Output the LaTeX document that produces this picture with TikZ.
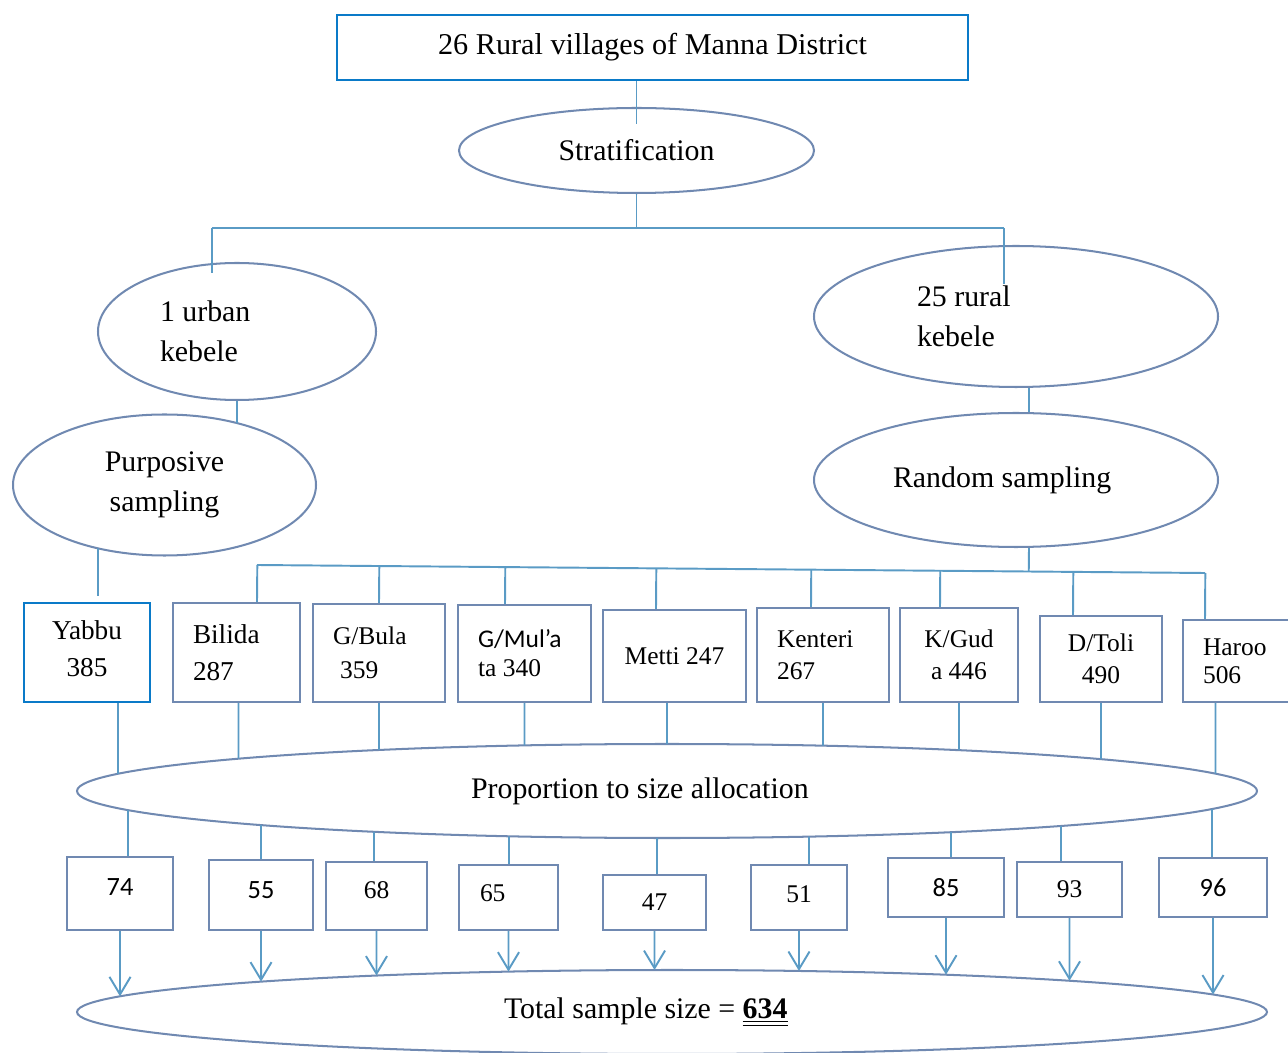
\documentclass[tikz,border=0pt]{standalone}
\usepackage{fontspec}
\setmainfont{Liberation Serif}
\newfontfamily\calibri{Carlito}
\usetikzlibrary{shapes.geometric,arrows.meta,calc,intersections}
\definecolor{linkc}{RGB}{90,155,197}
\definecolor{edgec}{RGB}{112,137,177}
\definecolor{blueb}{RGB}{10,122,200}

\tikzset{
  sz/.style 2 args={minimum width=#1*0.02cm, minimum height=#2*0.02cm},
  oval/.style={ellipse, draw=edgec, line width=1.15pt, inner sep=0pt,
    align=flush center, font=\fontsize{17}{22.7}\selectfont},
  box/.style={rectangle, draw=edgec, line width=1.4pt, inner sep=0pt,
    align=flush center, font=\fontsize{14.5}{18}\selectfont},
  sans/.style={font=\calibri\fontsize{15}{18}\selectfont},
  link/.style={draw=linkc, line width=1.1pt},
  arr/.style={link, -{Straight Barb[length=10pt,width=12pt]}},
}

% line from a point straight up or down to the border of a named shape
\newcommand\linkto[4][link]{%
  \path[name path=ray] #2 -- ++(0,#3);
  \draw[#1, name intersections={of=ray and #4, sort by=ray}] #2 -- (intersection-1);
}

\begin{document}
\begin{tikzpicture}[x=0.02cm, y=-0.02cm]
  \useasboundingbox (0,0) rectangle (1288,1053);
  \clip (0,0) rectangle (1288,1053);

  % stratification
  \node[box, draw=blueb, sz={631}{65}, font=\fontsize{17.2}{20}\selectfont] (villages) at (652.5,47.5) {26 Rural villages of Manna District};
  \node[oval, name path=strat, sz={355}{85}] (strat) at (636.5,150.5) {Stratification};
  \node[oval, name path=urban, sz={278}{137}, text width=3.08cm, align=flush left] (urban) at (237,331.5) {1 urban\\kebele};
  \node[oval, name path=rural, sz={404}{141}, text width=3.96cm, align=flush left] (rural) at (1016,316.5) {25 rural\\kebele};
  \node[oval, name path=purp, sz={303}{141}] (purp) at (164.5,485) {Purposive\\sampling};
  \node[oval, name path=rand, sz={404}{134}, text width=4.92cm, align=flush left] (rand) at (1016,480) {Random sampling};

  % kebeles
  \node[box, draw=blueb, sz={126}{99}, text depth=0.16cm, font=\fontsize{15.5}{21}\selectfont] (yab) at (87,652.5) {Yabbu\\385};
  \node[box, sz={127}{99}, text width=1.74cm, align=flush left, font=\fontsize{15.5}{21}\selectfont] (bil) at (236.5,652.5) {Bilida\\287};
  \node[box, sz={132}{98}, text width=1.84cm, align=flush left, font=\fontsize{14.5}{19.5}\selectfont] (gbu) at (379,653) {G/Bula\\\hspace*{4pt}359};
  \node[box, sz={133}{97}, text width=1.86cm, align=flush left, font=\fontsize{14.5}{16.5}\selectfont] (gmu) at (524.5,653.5) {{\calibri G/Mul’a}\\ta 340};
  \node[box, sz={143}{92}] (met) at (674.5,656) {Metti 247};
  \node[box, sz={132}{94}, text width=1.84cm, align=flush left] (ken) at (823,655) {Kenteri\\267};
  \node[box, sz={118}{94}] (kgu) at (959,655) {K/Gud\\a 446};
  \node[box, sz={122}{86}] (dto) at (1101,659) {D/Toli\\490};
  \node[box, sz={115}{82}, text width=1.5cm, align=flush left, font=\fontsize{14.5}{16}\selectfont] (har) at (1240.5,661) {Haroo\\506};

  \node[oval, name path=prop, sz={1180}{94}, text width=7.84cm, align=flush left] (prop) at (667,791) {Proportion to size allocation};

  % allocated sizes
  \node[box, sans, sz={106}{73}, text depth=0.24cm] (n74) at (120,893.5) {74};
  \node[box, sans, sz={104}{70}, text depth=0.2cm] (n55) at (261,895) {55};
  \node[box, sz={101}{68}, text depth=0.22cm] (n68) at (376.5,896) {68};
  \node[box, sz={99}{65}, text depth=0.16cm, text width=1.14cm, align=flush left] (n65) at (508.5,897.5) {65};
  \node[box, sz={103}{55}] (n47) at (654.5,902.5) {47};
  \node[box, sz={96}{65}, text depth=0.12cm] (n51) at (799,897.5) {51};
  \node[box, sans, sz={116}{59}] (n85) at (946,887.5) {85};
  \node[box, sz={105}{55}] (n93) at (1069.5,889.5) {93};
  \node[box, sans, sz={108}{59}] (n96) at (1213,887.5) {96};

  \node[oval, name path=total, sz={1190}{84}, text width=6.72cm, align=flush left] (total) at (672,1012) {Total sample size = \underline{\underline{\textbf{634}}}};

  % upper links
  \coordinate (tl) at (212,228);
  \coordinate (tr) at (1004,228);
  \draw[link, shorten >=-0.34cm] (strat.north |- villages.south) -- (strat.north);
  \draw[link] (strat.south) -- (strat.south |- tl);
  \draw[link] (tl) -- (tr);
  \draw[link] (tl) -- ($(tl |- urban.north)+(0,11)$);
  \draw[link] (tr) -- ($(tr |- rural.north)+(0,39)$);
  \linkto{(urban.south)}{60}{purp}
  \draw[link] ($(rural.south)+(13,0)$) -- ($(rand.north)+(13,0)$);
  \linkto{($(yab.north)+(11,-6)$)}{-80}{purp}

  % bus to the kebeles
  \coordinate (bl) at (257,565);
  \coordinate (br) at (1205,573);
  \coordinate (rs) at ($(rand.south)+(13,0)$);
  \draw[link] (bl) -- (br);
  \draw[link] (rs) -- ($(bl)!(rs)!(br)$);
  \foreach \b/\d in {bil/20.5, gbu/0, gmu/-19.5, met/-18.5, ken/-12, kgu/-19, dto/-28, har/-35.5}{
    \coordinate (top) at ($(\b.north)+(\d,0)$);
    \draw[link] (top) -- ($(bl)!(top)!(br)$);
  }

  % kebeles to allocation and on to the total
  \foreach \b/\d in {yab/31, bil/2, gbu/0, gmu/0, met/-7.5, ken/0, kgu/0, dto/0, har/-25}{
    \linkto{($(\b.south)+(\d,0)$)}{150}{prop}
  }
  \foreach \b/\d in {n74/8, n55/0, n68/-2.5, n65/0.5, n47/2.5, n51/10, n85/5, n93/-8.5, n96/-1}{
    \linkto{($(\b.north)+(\d,0)$)}{-150}{prop}
  }
  \foreach \b in {n74, n55, n68, n65, n47, n51, n85, n93, n96}{
    \linkto[arr]{(\b.south)}{120}{total}
  }
\end{tikzpicture}
\end{document}
